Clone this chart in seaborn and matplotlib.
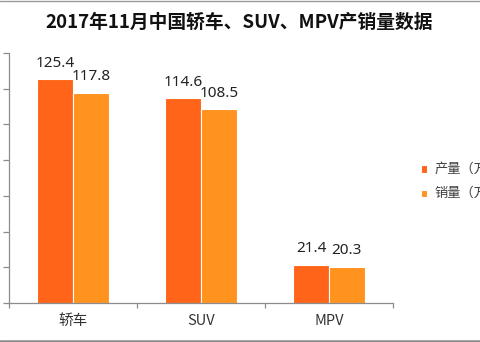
import matplotlib
matplotlib.use("Agg")
import matplotlib.pyplot as plt
from matplotlib.lines import Line2D
import seaborn as sns
import pandas as pd

# 车型与两组数据（万辆）
categories = ["轿车", "SUV", "MPV"]
production = [125.4, 114.6, 21.4]
sales = [117.8, 108.5, 20.3]
series_names = ["产量（万辆）", "销量（万辆）"]
colors = ["#FF6418", "#FF931E"]
title = "2017年11月中国轿车、SUV、MPV产销量数据"

sns.set_theme(style="white")
plt.rcParams["font.family"] = ["Noto Sans CJK SC", "DejaVu Sans"]

df = pd.DataFrame({
    "车型": categories * 2,
    "数量": production + sales,
    "类别": [series_names[0]] * len(categories) + [series_names[1]] * len(categories),
})

fig = plt.figure(figsize=(4.8, 3.42), dpi=100)
ax = fig.add_axes([9 / 480, 1 - 303 / 342, 384 / 480, 250 / 342])

sns.barplot(data=df, x="车型", y="数量", hue="类别", palette=colors,
            saturation=1, width=0.56, edgecolor="white", linewidth=0.8, ax=ax)

ax.set_ylim(0, 140)
ax.set_xlim(-0.5, 2.5)
ax.set_xlabel("")
ax.set_ylabel("")

axis_grey = "#8c8c8c"
for side in ("top", "right"):
    ax.spines[side].set_visible(False)
for side in ("left", "bottom"):
    ax.spines[side].set_color(axis_grey)
    ax.spines[side].set_linewidth(0.9)

ax.set_yticks(range(0, 141, 20))
ax.set_yticklabels([])
ax.tick_params(axis="y", left=True, length=4.3, width=0.9, color=axis_grey)

# 类别分隔刻度 + 居中类别标签
ax.set_xticks([-0.5, 0.5, 1.5, 2.5])
ax.set_xticklabels([])
ax.set_xticks([0, 1, 2], minor=True)
ax.set_xticklabels(categories, minor=True)
ax.tick_params(axis="x", which="major", bottom=True, length=3.6, width=0.9, color=axis_grey)
ax.tick_params(axis="x", which="minor", bottom=False, length=0, pad=8,
               labelsize=10.5, labelcolor="#333333")

for container in ax.containers:
    ax.bar_label(container, fmt="%.1f", padding=6, fontsize=11,
                 color="#222222", family=["Noto Sans", "DejaVu Sans"])

handles, labels = ax.get_legend_handles_labels()
if ax.get_legend() is not None:
    ax.get_legend().remove()
fig.legend(handles, labels, loc="center left",
           bbox_to_anchor=(409 / 480, 1 - 182.5 / 342), frameon=False,
           fontsize=9.5, handlelength=0.5, handleheight=0.5,
           handletextpad=0.5, labelspacing=0.85, labelcolor="#404040")

fig.text(0.498, 1 - 22 / 342, title, ha="center", va="center",
         fontsize=13.5, fontweight="bold", color="#111111")

# 图片上下边框线
fig.add_artist(Line2D([0, 1], [1 - 0.5 / 342] * 2, color="#9a9a9a", lw=1.0))
fig.add_artist(Line2D([0, 1], [1.2 / 342] * 2, color="#8a8a8a", lw=1.8))

fig.savefig("out.png", dpi=100)
